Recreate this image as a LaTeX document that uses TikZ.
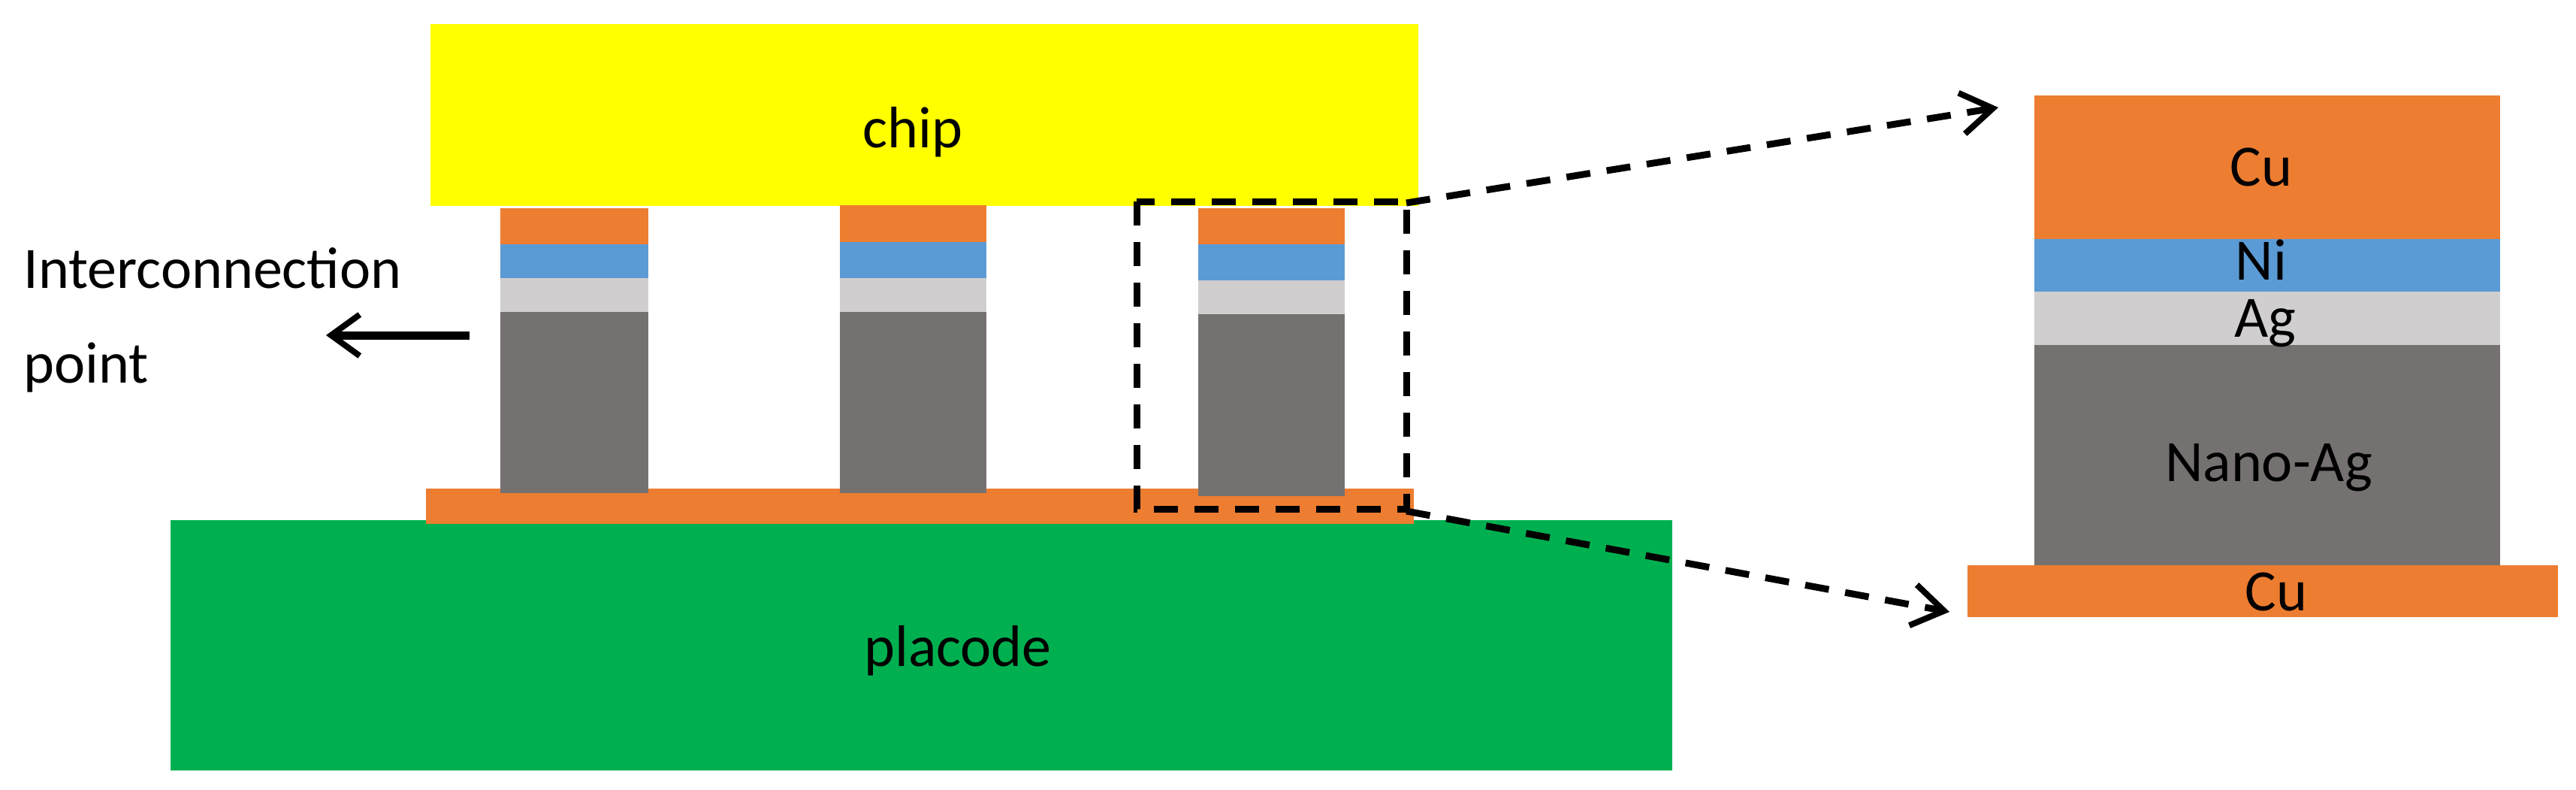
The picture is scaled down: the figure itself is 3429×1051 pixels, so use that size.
\documentclass[tikz,border=0pt]{standalone}
\usepackage{fontspec}
\setmainfont{Carlito}
\usetikzlibrary{arrows.meta}
\definecolor{cu}{HTML}{ED7D31}
\definecolor{ni}{HTML}{5B9BD5}
\definecolor{ag}{HTML}{D0CECE}
\definecolor{nano}{HTML}{767171}
\definecolor{chipc}{HTML}{FFFF00}
\definecolor{pcb}{HTML}{00B050}
\begin{document}
\begin{tikzpicture}[x=1pt,y=-1pt,
  lbl/.style={font=\fontsize{78}{92}\selectfont},
  dashln/.style={line width=9pt,dash pattern=on 32pt off 22pt},
  tip/.style={-{Straight Barb[length=42pt,width=55pt,line width=8pt]}}]
\useasboundingbox (0,0) rectangle (3429,1051);
\fill[pcb] (227,692) rectangle (2226,1025);
\fill[chipc] (573,32) rectangle (1888,274);
\fill[cu] (567,650) rectangle (1882,697);
\foreach \xa/\xb/\ya/\yb/\yc/\yd/\ye in {666/863/277/325/370/415/656, 1118/1313/273/322/370/415/656, 1595/1790/277/325/373/418/660}{
  \fill[cu] (\xa,\ya) rectangle (\xb,\yb);
  \fill[ni] (\xa,\yb) rectangle (\xb,\yc);
  \fill[ag] (\xa,\yc) rectangle (\xb,\yd);
  \fill[nano] (\xa,\yd) rectangle (\xb,\ye);
}
\node[lbl] (chip) at (1215,176) {chip};
\node[lbl] (placode) at (1275,866) {placode};
\node[lbl,anchor=west,align=left] (ic) at (28,426) {Interconnection\\[34pt]point};
\coordinate (as) at (625,446);
\coordinate (ae) at (434,446);
\draw[line width=11pt,-{Straight Barb[length=38pt,width=55pt,line width=8pt]}] (as) -- (ae);
\draw[dashln] (1513,268) rectangle (1872,677);
\coordinate (bt) at (1872,270);
\coordinate (bb) at (1872,680);
% detail
\fill[cu] (2708,127) rectangle (3328,318);
\fill[ni] (2708,318) rectangle (3328,388);
\fill[ag] (2708,388) rectangle (3328,459);
\fill[nano] (2708,459) rectangle (3328,752);
\fill[cu] (2619,752) rectangle (3405,821);
\node[lbl] (cu1) at (3010,222) {Cu};
\node[lbl] (ni) at (3010,346) {Ni};
\node[lbl] (ag) at (3015,430) {Ag};
\node[lbl] (na) at (3020,622) {Nano-Ag};
\node[lbl] (cu2) at (3030,787) {Cu};
\coordinate (tt) at (2660,143);
\coordinate (tb) at (2595,814);
\draw[dashln,tip] (bt) -- (tt);
\draw[dashln,tip] (bb) -- (tb);
\end{tikzpicture}
\end{document}
